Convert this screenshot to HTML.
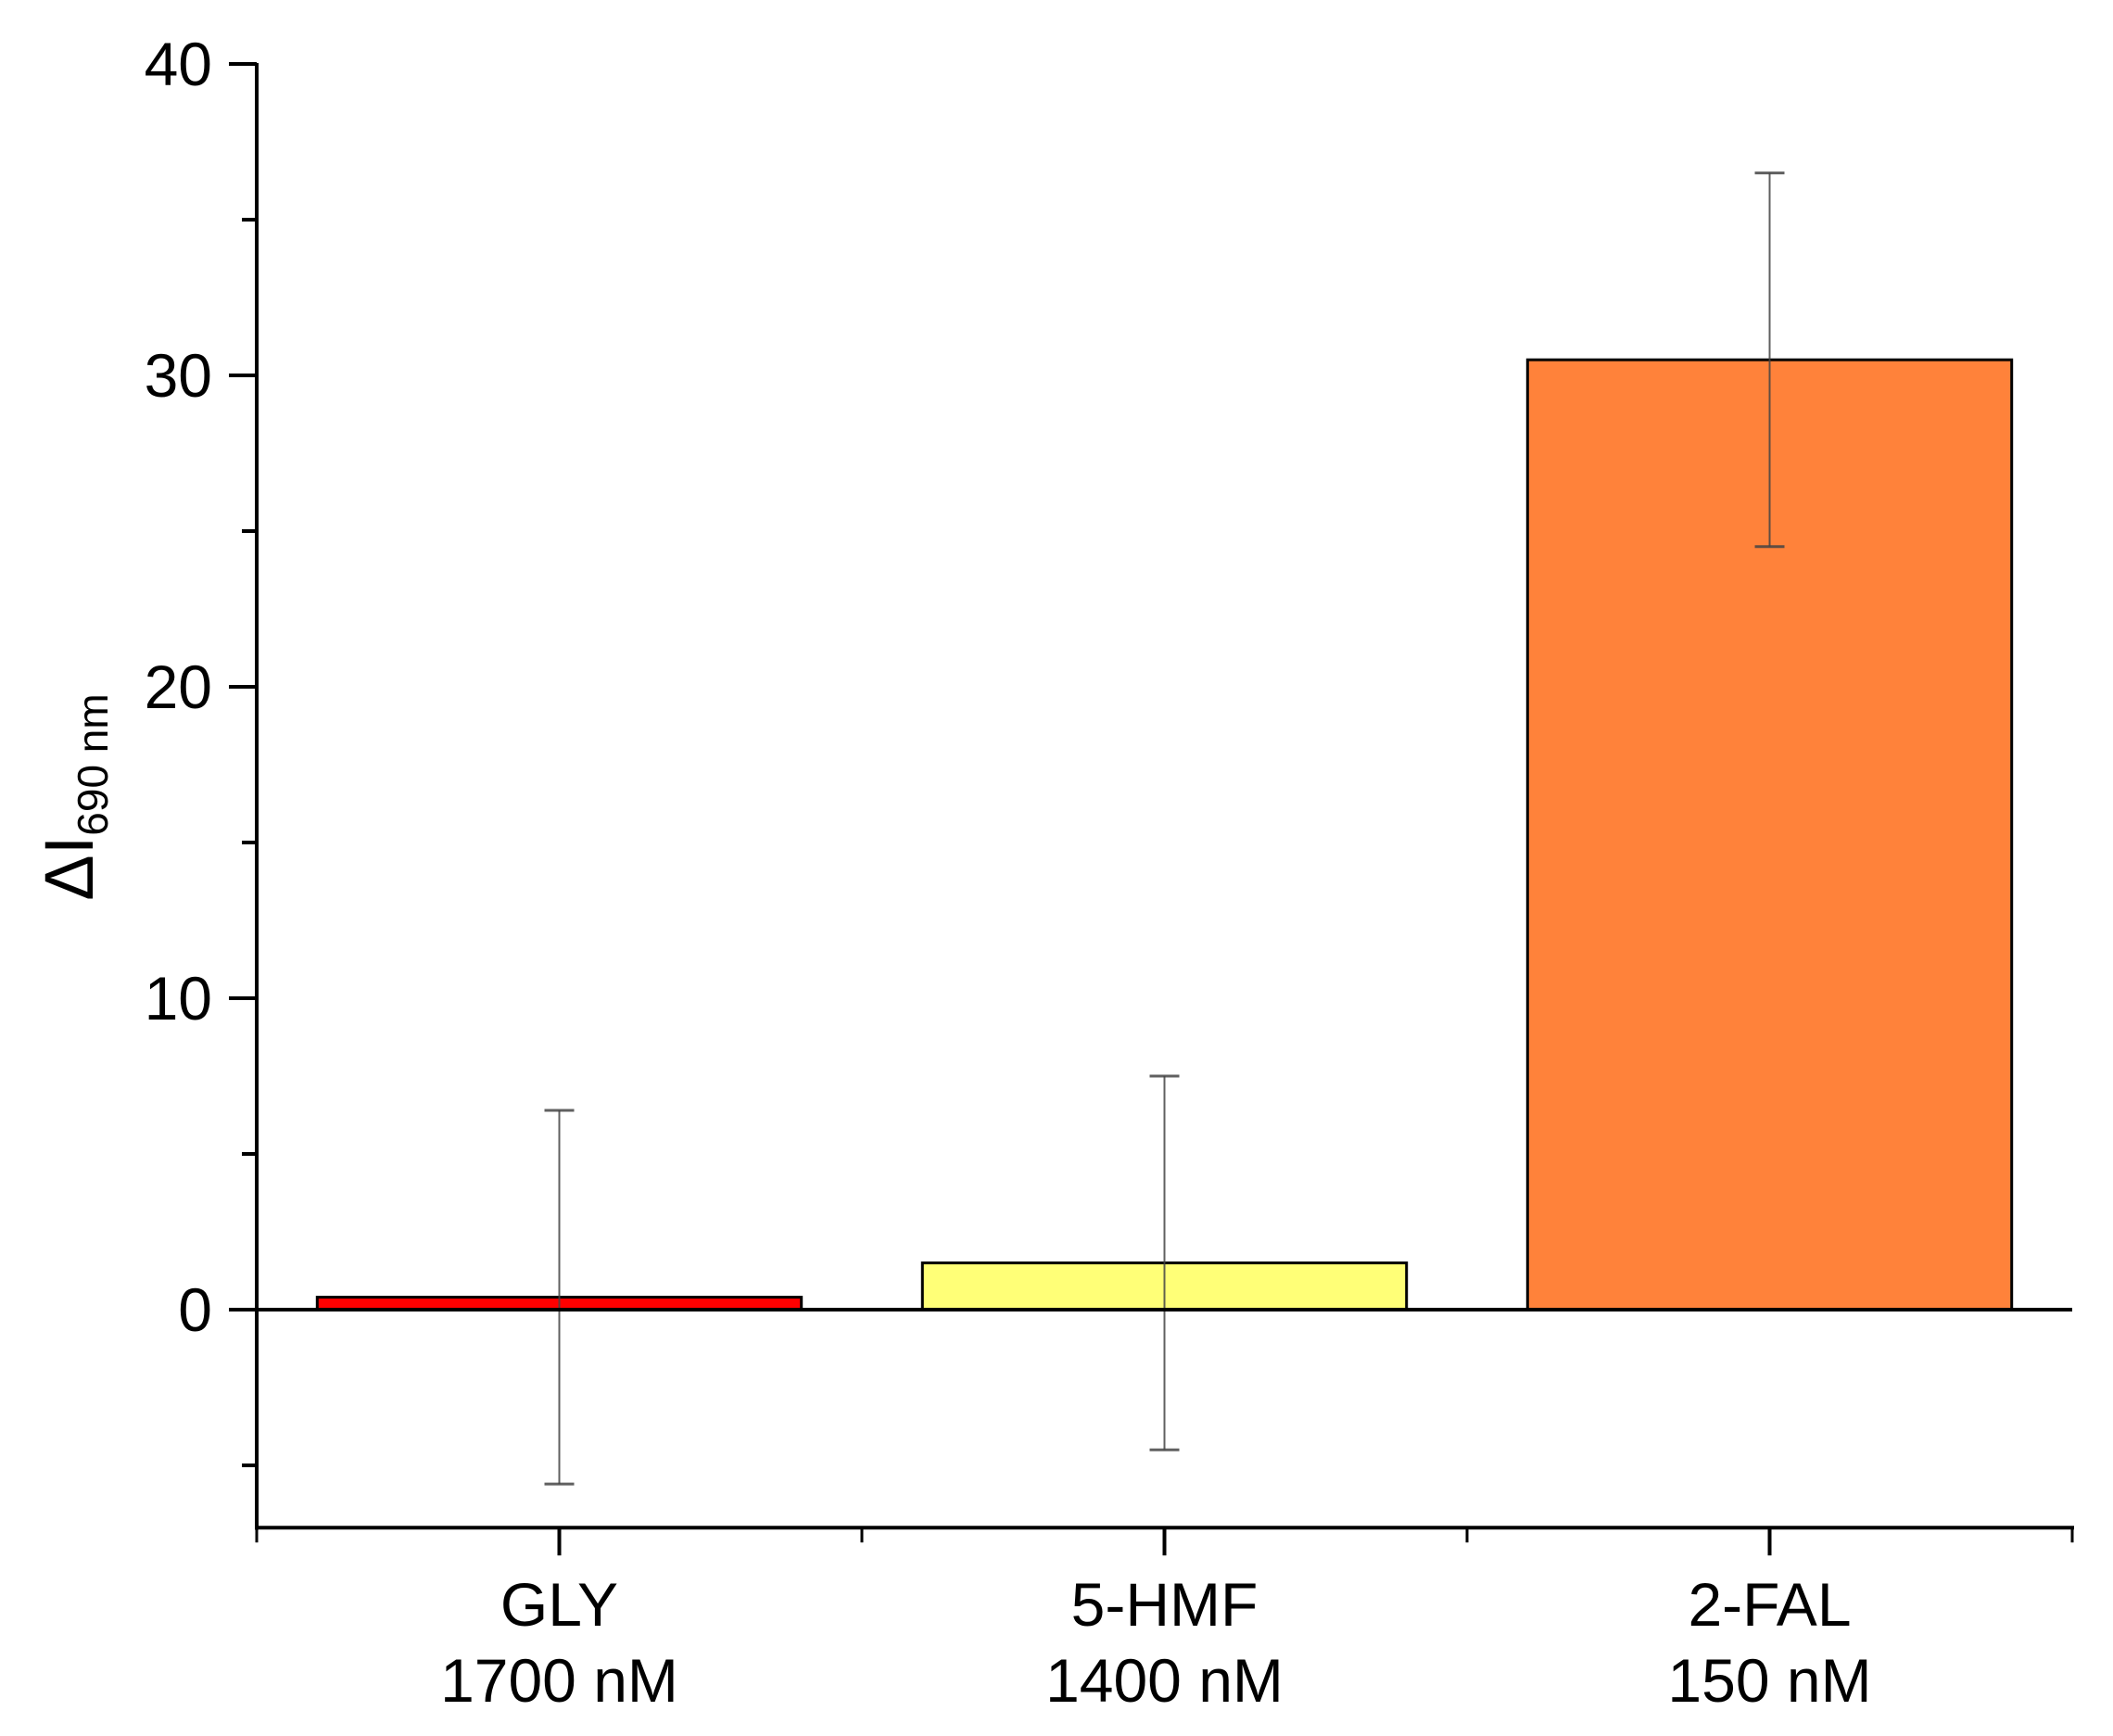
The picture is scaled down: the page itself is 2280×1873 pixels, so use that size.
<!DOCTYPE html>
<html><head><meta charset="utf-8"><style>
html,body{margin:0;padding:0;background:#fff}
svg{display:block;font-family:"Liberation Sans",Arial,sans-serif}
</style></head><body>
<svg id="chart" width="2280" height="1873" viewBox="0 0 2280 1873"></svg>
<script>
const categories=["GLY","5-HMF","2-FAL"];
const concentrations=["1700 nM","1400 nM","150 nM"];
const values=[0.4,1.5,30.5];
const errors=[6,6,6];
const colors=["#ff0000","#ffff77","#ff823a"];
const yTicks=[0,10,20,30,40];
const yMinor=[-5,5,15,25,35];

const X0=277,X1=2236,Y0=1413,PER=33.6;
const step=(X1-X0)/3;
function xs(i){return X0+step*(i+0.5);}
function ys(v){return Y0-v*PER;}
const svg=document.getElementById('chart');
const NS="http://www.w3.org/2000/svg";
function el(t,a,p){const e=document.createElementNS(NS,t);for(const k in a)e.setAttribute(k,a[k]);(p||svg).appendChild(e);return e;}

categories.forEach((c,i)=>{
  const w=step*0.8, v=values[i];
  const r=el('rect',{x:xs(i)-w/2,y:Math.min(ys(v),Y0),width:w,height:Math.abs(ys(v)-Y0),fill:colors[i],stroke:'#000','stroke-width':3});
  
  
});
categories.forEach((c,i)=>{
  const g=el('g',{stroke:'#444','stroke-width':2,'stroke-opacity':0.85});
  
  
  const x=xs(i),t=ys(values[i]+errors[i]),b=ys(values[i]-errors[i]);
  el('line',{x1:x,x2:x,y1:t,y2:b},g);
  el('line',{x1:x-16,x2:x+16,y1:t,y2:t,'stroke-width':3},g);
  el('line',{x1:x-16,x2:x+16,y1:b,y2:b,'stroke-width':3},g);
});
const zl=el('line',{x1:X0-30,x2:X1,y1:Y0,y2:Y0,stroke:'#000','stroke-width':4});


const yBottom=ys(-7);
const ya=el('line',{x1:X0,x2:X0,y1:ys(40)-1,y2:yBottom+2,stroke:'#000','stroke-width':4});


const xa=el('line',{x1:X0-2,x2:X1+2,y1:yBottom,y2:yBottom,stroke:'#000','stroke-width':4});


yTicks.forEach(v=>{
  el('line',{x1:X0-30,x2:X0,y1:ys(v),y2:ys(v),stroke:'#000','stroke-width':4});
  const t=el('text',{x:X0-48,y:ys(v)+23,'font-size':66,'text-anchor':'end',fill:'#000'});
  t.textContent=v;
  
  
});
yMinor.forEach(v=>{el('line',{x1:X0-16,x2:X0,y1:ys(v),y2:ys(v),stroke:'#000','stroke-width':4});});
for(let i=0;i<=3;i++){el('line',{x1:X0+step*i,x2:X0+step*i,y1:yBottom,y2:yBottom+16,stroke:'#000','stroke-width':3});}
categories.forEach((c,i)=>{
  el('line',{x1:xs(i),x2:xs(i),y1:yBottom,y2:yBottom+30,stroke:'#000','stroke-width':4});
  const t=el('text',{x:xs(i),y:1754,'font-size':66,'text-anchor':'middle',fill:'#000'});
  t.textContent=c;
  
  
  const t2=el('text',{x:xs(i),y:1836,'font-size':66,'text-anchor':'middle',fill:'#000'});
  t2.textContent=concentrations[i];
  
  
});
const yt=el('text',{transform:'translate(100,860) rotate(-90)','font-size':74,'text-anchor':'middle',fill:'#000'});


const s1=el('tspan',{},yt);s1.textContent='ΔI';
const s2=el('tspan',{'font-size':46,dy:16},yt);s2.textContent='690 nm';
</script>
</body></html>
